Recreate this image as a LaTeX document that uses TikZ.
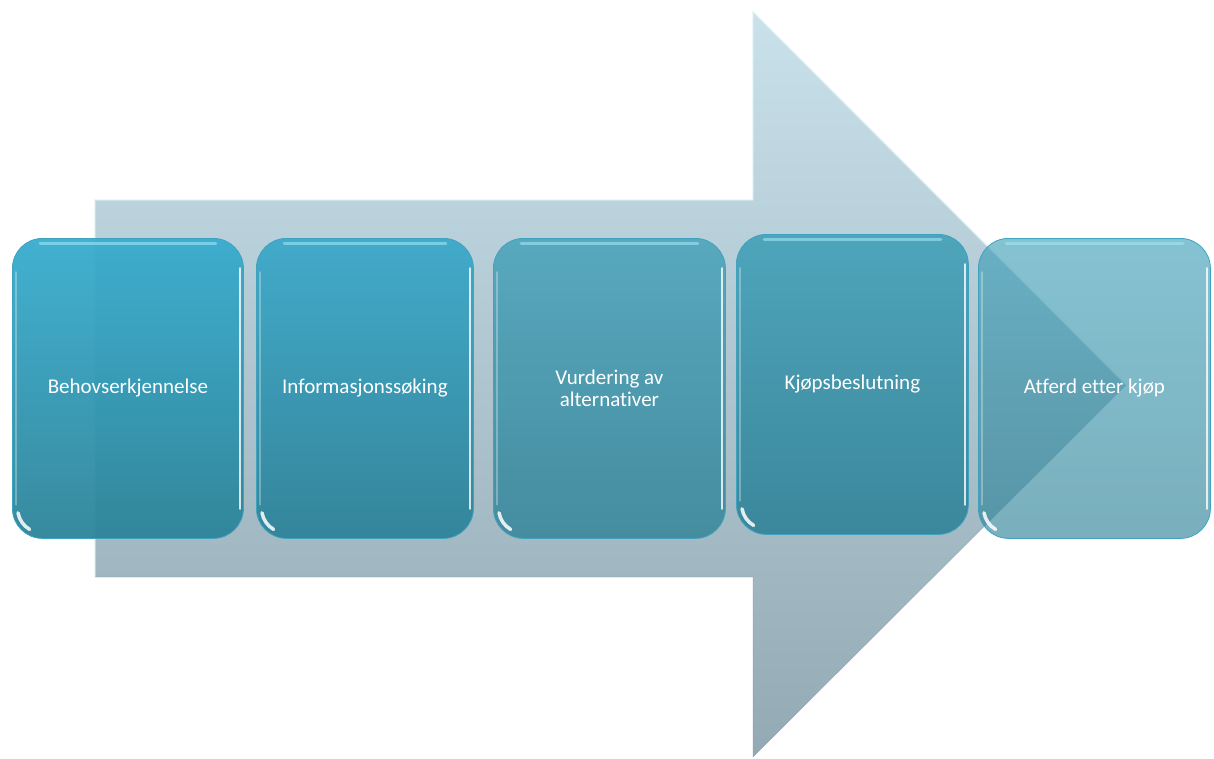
\documentclass[tikz,border=0pt]{standalone}
\usepackage{fontspec}
\setmainfont[Ligatures=NoCommon]{Carlito}
\definecolor{arrowtop}{HTML}{C9E1EB}
\definecolor{arrowbot}{HTML}{93A9B3}
\definecolor{arrowedge}{HTML}{DCEDF4}
\definecolor{boxAtop}{HTML}{38ACCE}
\definecolor{boxAbot}{HTML}{2C8499}
\definecolor{boxBtop}{HTML}{3AA8C9}
\definecolor{boxBbot}{HTML}{2C8298}
\definecolor{boxCtop}{HTML}{3A9DB6}
\definecolor{boxCbot}{HTML}{287E94}
\definecolor{rimcol}{HTML}{3FA3C0}
\definecolor{toprim}{HTML}{9FE6F5}
\begin{document}
\begin{tikzpicture}[x=1pt,y=-1pt,
  stagebox/.style={draw=rimcol, line width=0.8pt, rounded corners=30pt,
    minimum width=231pt, minimum height=300pt, anchor=north west,
    text=white, text opacity=1, draw opacity=1, align=center, inner sep=0pt,
    font=\fontsize{21}{22}\selectfont},
  glossA/.style={top color=boxAtop, bottom color=boxAbot},
  glossB/.style={top color=boxBtop, bottom color=boxBbot},
  glossC/.style={top color=boxCtop, bottom color=boxCbot},
  shine/.style={white, line cap=round}
]
\useasboundingbox (0,0) rectangle (1214,758);

% the large background arrow
\path[top color=arrowtop, bottom color=arrowbot]
  (95,200) -- (753,200) -- (753,12) -- (1126,385) -- (753,757)
  -- (753,577) -- (95,577) -- cycle;
\draw[arrowedge, line width=1.2pt, opacity=.8]
  (95,577) -- (95,200) -- (753,200) -- (753,12) -- (1126,385);
\draw[arrowbot!80!black, line width=0.6pt, opacity=.3]
  (1126,385) -- (753,757) -- (753,577) -- (95,577);

% the five stages
\node[stagebox, glossA, fill opacity=.95, minimum width=231pt] (s1) at (12,238) {Behovserkjennelse};
\node[stagebox, glossB, fill opacity=.93, minimum width=217pt] (s2) at (256,238) {Informasjonssøking};
\node[stagebox, glossC, fill opacity=.76, minimum width=232pt] (s3) at (493,238) {Vurdering av\\alternativer};
\node[stagebox, glossC, fill opacity=.84, minimum width=232pt] (s4) at (736,234) {Kjøpsbeslutning};
\node[stagebox, glossC, fill opacity=.62, minimum width=232pt] (s5) at (978,238) {Atferd etter kjøp};

% glossy highlights on each stage
\foreach \n in {s1,s2,s3,s4,s5}{
  \draw[toprim, line cap=round, line width=3pt, opacity=.6]
    ([xshift=28pt,yshift=-5pt]\n.north west) -- ([xshift=-28pt,yshift=-5pt]\n.north east);
  \draw[shine, line width=2pt, opacity=.8]
    ([xshift=-4pt,yshift=-30pt]\n.north east) -- ([xshift=-4pt,yshift=30pt]\n.south east);
  \draw[shine, line width=1.5pt, opacity=.3]
    ([xshift=4pt,yshift=-34pt]\n.north west) -- ([xshift=4pt,yshift=34pt]\n.south west);
  \draw[shine, line width=3.5pt, opacity=.85]
    ([xshift=6pt,yshift=26pt]\n.south west) arc[start angle=190, end angle=240, radius=24pt];
}
\end{tikzpicture}
\end{document}
